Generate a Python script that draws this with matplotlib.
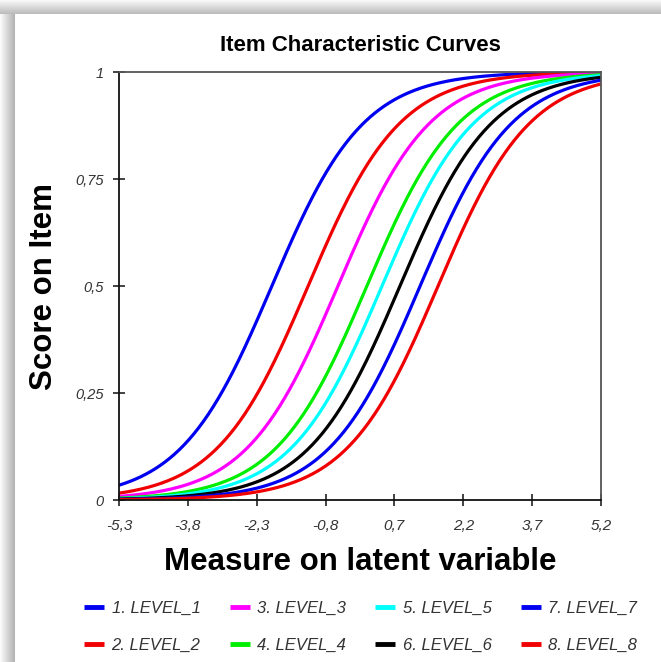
import numpy as np
import matplotlib
matplotlib.use("Agg")
import matplotlib.pyplot as plt
from matplotlib.patches import Rectangle

# item difficulties (logits), Rasch curves P = 1/(1+exp(-(theta-b)))
levels = ["1. LEVEL_1", "2. LEVEL_2", "3. LEVEL_3", "4. LEVEL_4",
          "5. LEVEL_5", "6. LEVEL_6", "7. LEVEL_7", "8. LEVEL_8"]
difficulty = [-1.97, -1.18, -0.53, 0.10, 0.43, 0.82, 1.26, 1.65]
colors = ["#0000f0", "#f00000", "#ff00ff", "#00ee00",
          "#00ffff", "#000000", "#0000f0", "#f00000"]

xticks = [-5.3, -3.8, -2.3, -0.8, 0.7, 2.2, 3.7, 5.2]
xlabels = ["-5,3", "-3,8", "-2,3", "-0,8", "0,7", "2,2", "3,7", "5,2"]
yticks = [0, 0.25, 0.5, 0.75, 1]
ylabels = ["0", "0,25", "0,5", "0,75", "1"]

plt.rcParams['font.family'] = ['Liberation Sans', 'DejaVu Sans']

W, H = 661, 662
fig = plt.figure(figsize=(W / 100, H / 100), dpi=100)
fig.patch.set_facecolor("white")

# soft grey drop shadow along top and left edge
for i in range(14):
    g = 0.97 - 0.018 * i
    fig.add_artist(Rectangle((0, 1 - (i + 1) / H), 1, 1 / H, transform=fig.transFigure,
                             facecolor=(g, g, g), edgecolor="none"))
for i in range(15):
    g = 0.98 - 0.02 * i
    fig.add_artist(Rectangle((i / W, 0), 1 / W, 1 - 14 / H, transform=fig.transFigure,
                             facecolor=(g, g, g), edgecolor="none"))

ax = fig.add_axes([119 / W, 1 - 500 / H, 482 / W, 428 / H])

theta = np.linspace(xticks[0], xticks[-1], 400)
for lab, b, c in zip(levels, difficulty, colors):
    p = 1 / (1 + np.exp(-(theta - b)))
    ax.plot(theta, p, color=c, lw=2.3, label=lab, solid_capstyle="butt")

ax.set_xlim(xticks[0], xticks[-1])
ax.set_ylim(0, 1)
ax.set_xticks(xticks)
ax.set_xticklabels(xlabels, fontstyle="italic", fontsize=11, color="#333333")
ax.set_yticks(yticks)
ax.set_yticklabels(ylabels, fontstyle="italic", fontsize=10.5, color="#333333")
ax.tick_params(direction="inout", length=8, width=1.2, color="#222222", pad=7)
ax.tick_params(axis="x", pad=10)

for s in ["left", "bottom"]:
    ax.spines[s].set_linewidth(1.3)
    ax.spines[s].set_color("#111111")
for s in ["top", "right"]:
    ax.spines[s].set_linewidth(1.3)
    ax.spines[s].set_color("#555555")

ax.set_title("Item Characteristic Curves", fontsize=16, fontweight="bold", pad=15)
ax.set_xlabel("Measure on latent variable", fontsize=22.5, fontweight="bold", labelpad=10)
ax.set_ylabel("Score on Item", fontsize=22.5, fontweight="bold", labelpad=12)

leg = fig.legend(loc="upper left", bbox_to_anchor=(84 / W, 1 - 601 / H), ncol=4,
                 frameon=False, borderpad=0, borderaxespad=0,
                 handlelength=1.2, handletextpad=0.45,
                 columnspacing=1.75, labelspacing=1.3,
                 prop={"style": "italic", "size": 12})
for t in leg.get_texts():
    t.set_color("#333333")
for h in leg.get_lines():
    h.set_linewidth(3.5)

fig.savefig("out.png", dpi=100)
